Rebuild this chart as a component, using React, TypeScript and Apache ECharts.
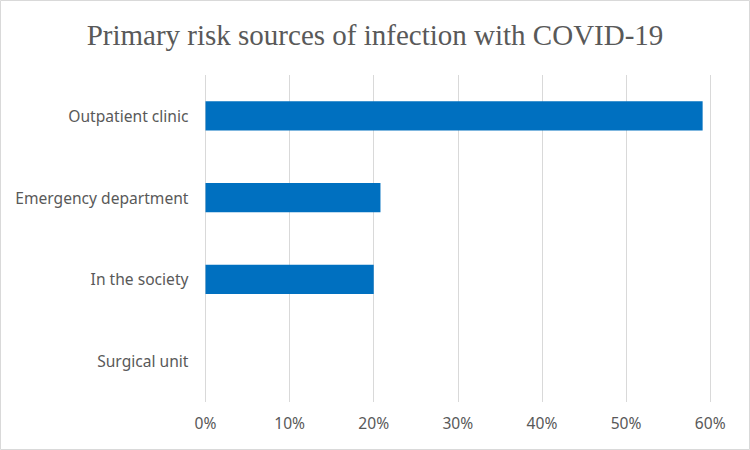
import React, { useEffect, useRef } from "react";
import * as echarts from "echarts";

const categories = ["Outpatient clinic", "Emergency department", "In the society", "Surgical unit"];
const values = [59.1, 20.8, 20.0, 0];
const titleText = "Primary risk sources of infection with COVID-19";

export default function App() {
  const ref = useRef<HTMLDivElement>(null);
  useEffect(() => {
    document.body.style.margin = "0";
    const chart = echarts.init(ref.current!, null, { renderer: "svg" });
    chart.setOption({
      animation: false,
      backgroundColor: "#ffffff",
      title: {
        text: titleText,
        left: "center",
        top: 15,
        textStyle: {
          fontFamily: "Liberation Serif",
          fontSize: 29,
          fontWeight: "normal",
          color: "#595959",
        },
      },
      graphic: [
        {
          type: "rect",
          shape: { x: 0.5, y: 0.5, width: 749, height: 449 },
          style: { fill: "none", stroke: "#d9d9d9", lineWidth: 1 },
          silent: true,
        },
      ],
      grid: { left: 205.5, right: 39.8, top: 75, bottom: 48, containLabel: false },
      xAxis: {
        type: "value",
        min: 0,
        max: 60,
        interval: 10,
        axisLine: { show: false },
        axisTick: { show: false },
        splitLine: { lineStyle: { color: "#d9d9d9", width: 1 } },
        axisLabel: {
          formatter: (v: number) => `${v}%`,
          color: "#595959",
          fontFamily: "Noto Sans",
          fontSize: 15.6,
          margin: 13,
        },
      },
      yAxis: {
        type: "category",
        data: categories,
        inverse: true,
        axisLine: { show: false },
        axisTick: { show: false },
        axisLabel: {
          color: "#595959",
          fontFamily: "Noto Sans",
          fontSize: 15.6,
          margin: 17,
        },
      },
      series: [
        {
          type: "bar",
          data: values,
          barCategoryGap: "64%",
          itemStyle: { color: "#0070C0" },
        },
      ],
    });
    return () => chart.dispose();
  }, []);
  return <div ref={ref} style={{ width: 750, height: 450 }} />;
}
